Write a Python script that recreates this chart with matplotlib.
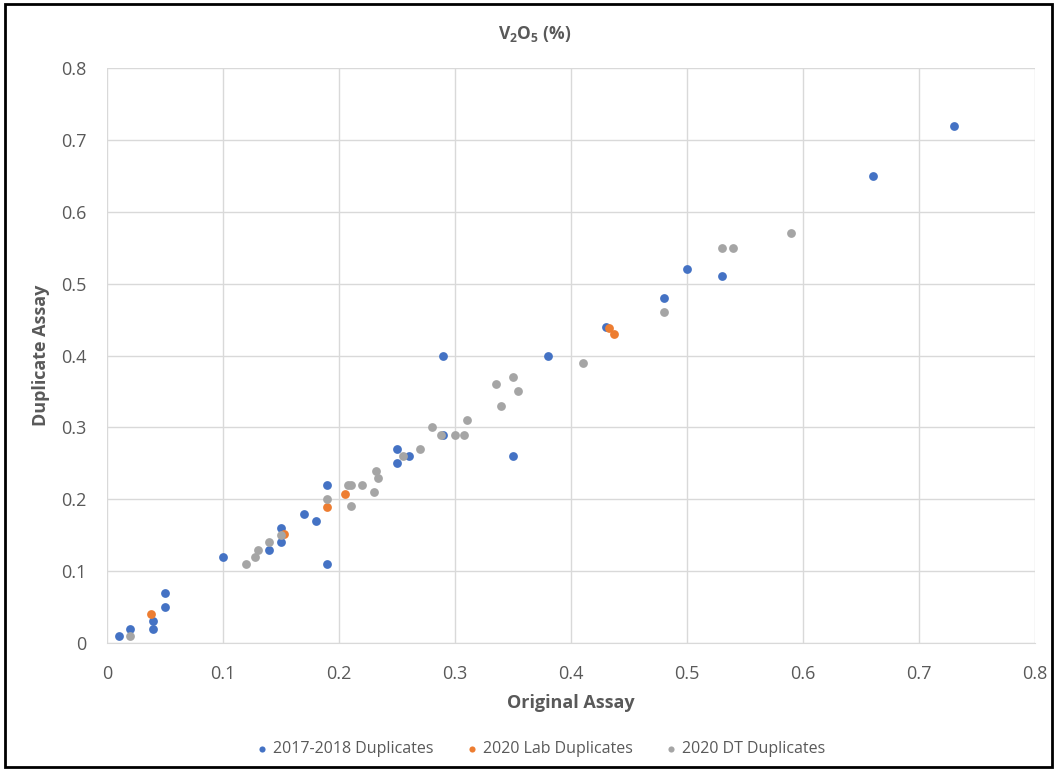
import matplotlib.pyplot as plt
from matplotlib.patches import Rectangle

plt.rcParams['font.family'] = ['Open Sans', 'DejaVu Sans']
plt.rcParams['mathtext.fontset'] = 'custom'
plt.rcParams['mathtext.rm'] = 'Open Sans'
plt.rcParams['mathtext.bf'] = 'Open Sans:bold'

# 2017-2018 duplicates
dup17_x = [0.01, 0.02, 0.04, 0.04, 0.05, 0.05, 0.10, 0.14, 0.15, 0.15, 0.17, 0.18,
           0.19, 0.19, 0.25, 0.25, 0.26, 0.29, 0.29, 0.35, 0.38, 0.43, 0.48, 0.50,
           0.53, 0.66, 0.73]
dup17_y = [0.01, 0.02, 0.03, 0.02, 0.07, 0.05, 0.12, 0.13, 0.16, 0.14, 0.18, 0.17,
           0.22, 0.11, 0.27, 0.25, 0.26, 0.40, 0.29, 0.26, 0.40, 0.44, 0.48, 0.52,
           0.51, 0.65, 0.72]

# 2020 lab duplicates
lab_x = [0.038, 0.153, 0.19, 0.205, 0.433, 0.437]
lab_y = [0.04, 0.151, 0.189, 0.207, 0.438, 0.43]

# 2020 DT duplicates
dt_x = [0.02, 0.12, 0.128, 0.13, 0.14, 0.15, 0.19, 0.21, 0.208, 0.21, 0.22, 0.23,
        0.232, 0.234, 0.255, 0.27, 0.28, 0.288, 0.30, 0.308, 0.31, 0.335, 0.34,
        0.35, 0.354, 0.41, 0.48, 0.53, 0.54, 0.59]
dt_y = [0.01, 0.11, 0.12, 0.13, 0.14, 0.15, 0.20, 0.19, 0.22, 0.22, 0.22, 0.21,
        0.24, 0.23, 0.26, 0.27, 0.30, 0.29, 0.29, 0.29, 0.31, 0.36, 0.33,
        0.37, 0.35, 0.39, 0.46, 0.55, 0.55, 0.57]

labels = ["2017-2018 Duplicates", "2020 Lab Duplicates", "2020 DT Duplicates"]
colors = ["#4472C4", "#ED7D31", "#A5A5A5"]
ticks = [0, 0.1, 0.2, 0.3, 0.4, 0.5, 0.6, 0.7, 0.8]
txtcol = "#595959"

fig = plt.figure(figsize=(10.57, 7.71), dpi=100)
ax = fig.add_axes([0.1012, 0.1660, 0.8780, 0.7458])

for xs, ys, c, lab in zip([dup17_x, lab_x, dt_x], [dup17_y, lab_y, dt_y], colors, labels):
  ax.scatter(xs, ys, s=40, color=c, label=lab, linewidths=0, zorder=3)

ax.set_xlim(0, 0.8)
ax.set_ylim(0, 0.8)
ax.set_xticks(ticks)
ax.set_yticks(ticks)
ax.set_xticklabels([f"{t:g}" for t in ticks])
ax.set_yticklabels([f"{t:g}" for t in ticks])
ax.tick_params(length=0, labelsize=13, labelcolor=txtcol)
ax.tick_params(axis="y", pad=15)
ax.tick_params(axis="x", pad=16)
ax.grid(color="#D9D9D9", linewidth=1)
ax.set_axisbelow(True)
for side in ["left", "right", "top"]:
  ax.spines[side].set_visible(False)
ax.spines["bottom"].set_color("#D9D9D9")

ax.set_xlabel("Original Assay", fontsize=13, fontweight="bold", color=txtcol, va="center")
ax.set_ylabel("Duplicate Assay", fontsize=13, fontweight="bold", color=txtcol, va="center")
ax.xaxis.set_label_coords(0.5, -0.104)
ax.yaxis.set_label_coords(-0.0713, 0.5)

fig.text(0.506, 0.956, r"V$_\mathbf{2}$O$_\mathbf{5}$ (%)", ha="center", va="center",
         fontsize=12.5, fontweight="bold", color=txtcol)

leg = fig.legend(loc="center", bbox_to_anchor=(0.512, 0.0285), ncol=3, frameon=False,
                 fontsize=11.5, markerscale=0.7, handlelength=0.6, handletextpad=0.4,
                 columnspacing=2.1, borderpad=0)
for t in leg.get_texts():
  t.set_color(txtcol)

fig.patches.append(Rectangle((5 / 1057, 4 / 771), 1047 / 1057, 763 / 771,
                             transform=fig.transFigure, fill=False,
                             edgecolor="black", linewidth=2))

fig.savefig("out.png", dpi=100)
